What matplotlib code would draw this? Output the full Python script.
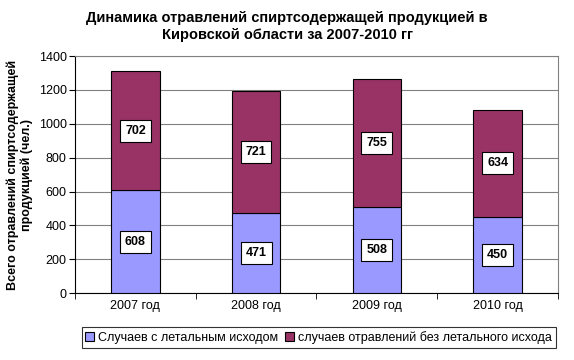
import matplotlib
matplotlib.use("Agg")
import matplotlib.pyplot as plt
import numpy as np

years = ["2007 год", "2008 год", "2009 год", "2010 год"]
fatal = [608, 471, 508, 450]
nonfatal = [702, 721, 755, 634]
series_names = ["Случаев с летальным исходом", "случаев отравлений без летального исхода"]

plt.rcParams["font.family"] = ["Liberation Sans", "DejaVu Sans"]

fig = plt.figure(figsize=(5.74, 3.6), dpi=100)
ax = fig.add_axes([0.1307, 0.186, 0.8413, 0.658])

x = np.arange(len(years))
b1 = ax.bar(x, fatal, width=0.4, color="#9999FF", edgecolor="black", linewidth=0.8, zorder=3,
            label=series_names[0])
b2 = ax.bar(x, nonfatal, width=0.4, bottom=fatal, color="#993366", edgecolor="black", linewidth=0.8,
            zorder=3, label=series_names[1])

box = dict(boxstyle="square,pad=0.4", facecolor="white", edgecolor="black", linewidth=0.8)
for i in range(len(years)):
    ax.text(x[i], fatal[i] / 2, str(fatal[i]), ha="center", va="center", fontsize=9,
            fontweight="bold", bbox=box, zorder=4)
    ax.text(x[i], fatal[i] + nonfatal[i] / 2, str(nonfatal[i]), ha="center", va="center",
            fontsize=9, fontweight="bold", bbox=box, zorder=4)

ax.set_xlim(-0.5, len(years) - 0.5)
ax.set_ylim(0, 1400)
ax.set_yticks(np.arange(0, 1401, 200))
ax.yaxis.grid(True, color="#808080", linewidth=0.8, zorder=0)
ax.set_xticks(x)
ax.set_xticklabels(years, fontsize=9)
ax.tick_params(axis="x", length=0, pad=5)
ax.set_xticks(np.arange(-0.5, len(years), 1), minor=True)
ax.tick_params(axis="x", which="minor", length=4, direction="out", color="black")
ax.tick_params(axis="y", labelsize=9, length=4, direction="out", pad=2)

for side in ("top", "right"):
    ax.spines[side].set_color("#808080")
    ax.spines[side].set_linewidth(0.8)
for side in ("left", "bottom"):
    ax.spines[side].set_color("black")
    ax.spines[side].set_linewidth(0.8)

ax.set_ylabel("Всего отравлений спиртсодержащей\nпродукцией (чел.)", fontsize=9, fontweight="bold",
              labelpad=4)

fig.suptitle("Динамика отравлений спиртсодержащей продукцией в\nКировской области за 2007-2010 гг",
             x=0.5, y=0.97, fontsize=10.5, fontweight="bold", linespacing=1.3)

leg = fig.legend(handles=[b1, b2], loc="center", bbox_to_anchor=(0.555, 0.0625), ncol=2, fontsize=9,
                 frameon=True, fancybox=False, edgecolor="black", handlelength=0.7, handleheight=0.7,
                 handletextpad=0.3, columnspacing=0.6, borderpad=0.3)
leg.get_frame().set_linewidth(0.8)

fig.savefig("out.png", dpi=100)
